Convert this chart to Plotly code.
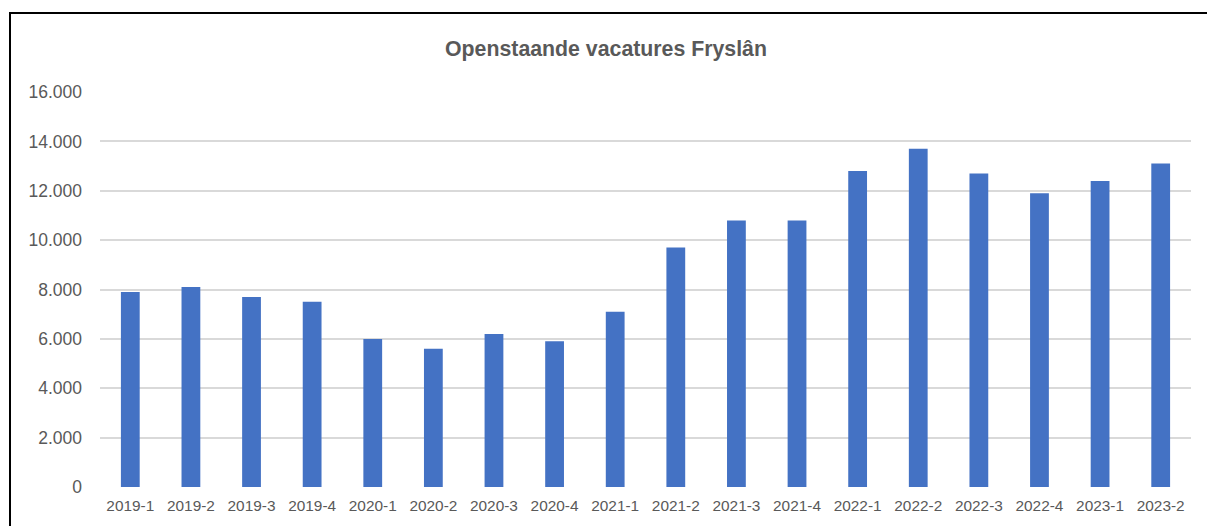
import plotly.graph_objects as go

categories = ["2019-1", "2019-2", "2019-3", "2019-4", "2020-1", "2020-2", "2020-3", "2020-4",
              "2021-1", "2021-2", "2021-3", "2021-4", "2022-1", "2022-2", "2022-3", "2022-4",
              "2023-1", "2023-2"]
vacatures = [7900, 8100, 7700, 7500, 6000, 5600, 6200, 5900,
             7100, 9700, 10800, 10800, 12800, 13700, 12700, 11900,
             12400, 13100]
title_text = "Openstaande vacatures Fryslân"

OFF = 8  # page body margin
W, H = 1215 - OFF, 526 - OFF
L, R, T, B = 100 - OFF, 24, 92 - OFF, 39
pw, ph = W - L - R, H - T - B

fig = go.Figure(go.Bar(
    x=categories, y=vacatures,
    marker=dict(color="#4472C4", line=dict(width=0)),
))

def px_to_paper_x(px):
    return (px - OFF - L) / pw

def px_to_paper_y(py):
    return (H - B - (py - OFF)) / ph

fig.update_layout(
    width=W, height=H,
    margin=dict(l=L, r=R, t=T, b=B),
    paper_bgcolor="white", plot_bgcolor="white",
    bargap=0.69,
    separators=",.",
    showlegend=False,
    font=dict(family="Liberation Sans, Arial, sans-serif", color="#595959"),
    title=dict(text="<b>" + title_text + "</b>", x=px_to_paper_x(606), xref="paper",
               xanchor="center", y=1 - (49 - OFF) / H, yanchor="middle",
               font=dict(size=21.3, color="#595959")),
    xaxis=dict(type="category", showgrid=False, showline=False, zeroline=False,
               tickfont=dict(size=15.4, color="#595959"), ticklabelstandoff=8),
    yaxis=dict(range=[0, 16000], tickvals=list(range(0, 16001, 2000)), tickformat=",d",
               showgrid=True, gridcolor="#d9d9d9", gridwidth=1.5, zeroline=False,
               showline=False, tickfont=dict(size=17.5, color="#595959"),
               ticklabelstandoff=17),
    shapes=[dict(type="rect", xref="paper", yref="paper",
                 x0=px_to_paper_x(10), x1=px_to_paper_x(1215 + 20),
                 y0=px_to_paper_y(526 + 20), y1=px_to_paper_y(13),
                 line=dict(color="black", width=2), fillcolor="rgba(0,0,0,0)", layer="above")],
)

fig.write_html("out.html")
